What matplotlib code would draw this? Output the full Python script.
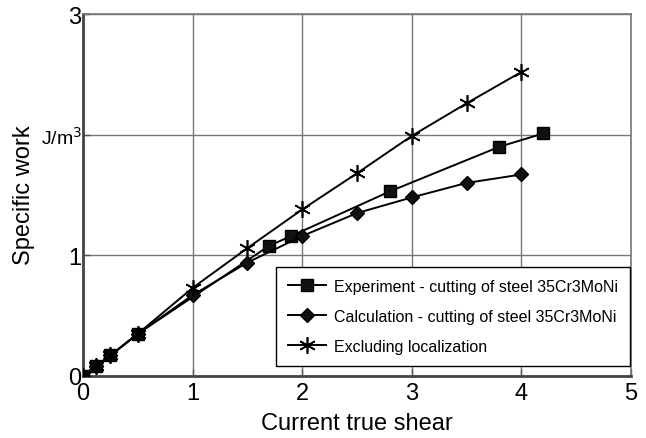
import numpy as np
import matplotlib.pyplot as plt
from matplotlib import transforms

plt.rcParams['font.family'] = ['Liberation Sans', 'DejaVu Sans']

# Experiment - cutting of steel 35Cr3MoNi
x_exp = [0, 0.12, 0.25, 0.5, 1.7, 1.9, 2.8, 3.8, 4.2]
y_exp = [0, 0.08, 0.17, 0.35, 1.08, 1.16, 1.53, 1.90, 2.01]

# Calculation - cutting of steel 35Cr3MoNi
x_calc = [0, 0.12, 0.25, 0.5, 1.0, 1.5, 2.0, 2.5, 3.0, 3.5, 4.0]
y_calc = [0, 0.08, 0.17, 0.35, 0.67, 0.94, 1.16, 1.35, 1.48, 1.60, 1.67]

# Excluding localization
x_loc = [0, 0.12, 0.25, 0.5, 1.0, 1.5, 2.0, 2.5, 3.0, 3.5, 4.0]
y_loc = [0, 0.08, 0.17, 0.35, 0.73, 1.06, 1.38, 1.68, 1.99, 2.26, 2.52]

x_ticks = [0, 1, 2, 3, 4, 5]
y_ticks = [0, 1, 2, 3]
y_tick_labels = ['0', '1', '', '3']

fig = plt.figure(figsize=(6.46, 4.39), dpi=100)
ax = fig.add_axes([83 / 646, 1 - 377 / 439, 548 / 646, 362 / 439])

ax.plot(x_exp, y_exp, color='black', lw=1.4, marker='s', ms=8,
        mfc='#111111', mec='black', label='Experiment - cutting of steel 35Cr3MoNi', zorder=4)
ax.plot(x_calc, y_calc, color='black', lw=1.4, marker='D', ms=7,
        mfc='#111111', mec='black', label='Calculation - cutting of steel 35Cr3MoNi', zorder=4)
ax.plot(x_loc, y_loc, color='black', lw=1.4, marker=(6, 2, 0), ms=12,
        mew=1.2, label='Excluding localization', zorder=4)

ax.set_xlim(0, 5)
ax.set_ylim(0, 3)
ax.set_xticks(x_ticks)
ax.set_yticks(y_ticks)
ax.set_yticklabels(y_tick_labels)
ax.tick_params(direction='in', length=5, width=1, color='#555555', labelsize=17)
ax.tick_params(axis='y', pad=1)
ax.tick_params(axis='x', pad=4)

ax.grid(True, color='#777777', lw=1)
ax.set_axisbelow(True)

for side in ['left', 'bottom']:
    ax.spines[side].set_color('#444444')
    ax.spines[side].set_linewidth(2)
for side in ['top', 'right']:
    ax.spines[side].set_color('#777777')
    ax.spines[side].set_linewidth(1.2)

ax.set_xlabel('Current true shear', fontsize=17, labelpad=6)
ax.set_ylabel('Specific work', fontsize=17, va='center')
ax.yaxis.set_label_coords(-59 / 548, 0.503)

# unit label sits in place of the "2" tick
trans = transforms.blended_transform_factory(ax.transAxes, ax.transData)
ax.text(-0.002, 1.98, 'J/m$^3$', transform=trans, ha='right', va='center', fontsize=14)

leg = ax.legend(loc='lower right', bbox_to_anchor=(0.998, 0.028), borderaxespad=0,
                fontsize=11.5, handlelength=2.4, handletextpad=0.5, labelspacing=0.95,
                borderpad=0.75, fancybox=False, framealpha=1, edgecolor='black')
leg.get_frame().set_linewidth(1)

fig.savefig('out.png', dpi=100)
